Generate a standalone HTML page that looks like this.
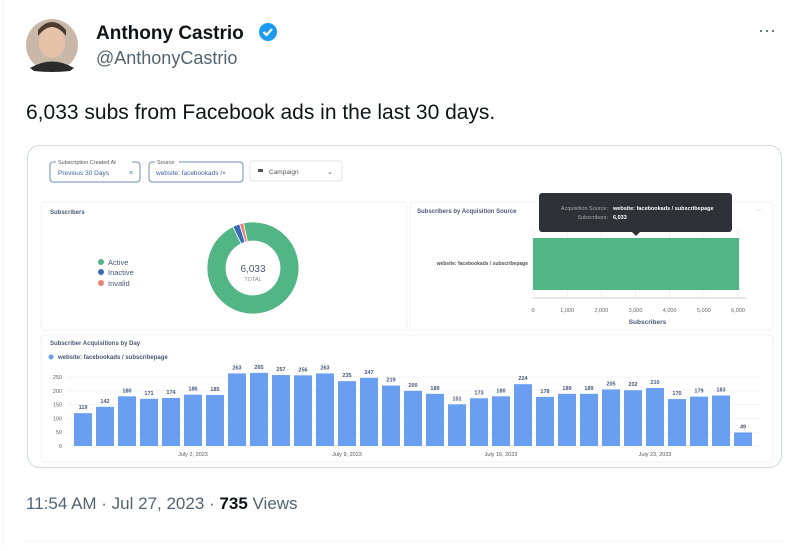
<!DOCTYPE html>
<html><head><meta charset="utf-8">
<style>
html,body{margin:0;padding:0;background:#fff;}
body{width:802px;height:546px;overflow:hidden;font-family:"Liberation Sans",sans-serif;}
svg text{font-family:"Liberation Sans",sans-serif;}
</style></head>
<body>
<svg width="802" height="546" viewBox="0 0 802 546" xmlns="http://www.w3.org/2000/svg">
  <line x1="3" y1="0" x2="3" y2="546" stroke="#eff3f4"/>
  <g>
    <circle cx="52" cy="45" r="26" fill="#c9b7a8"/>
    <ellipse cx="52" cy="42" rx="13" ry="16" fill="#e6c3a8"/>
    <path d="M38 36 Q52 18 66 36 L66 30 Q52 14 38 30Z" fill="#4a3a30"/>
    <path d="M30 68 Q52 55 74 68 L70 71 Q52 73 34 71Z" fill="#2b2b2b"/>
  </g>
  <text x="96" y="39" font-size="19" font-weight="bold" fill="#0f1419">Anthony Castrio</text>
  <g>
    <circle cx="268" cy="32" r="9" fill="#1d9bf0"/>
    <path d="M263.5 32 l3 3 l5.5 -6" stroke="#fff" stroke-width="2.2" fill="none"/>
  </g>
  <text x="96" y="64" font-size="18" fill="#536471">@AnthonyCastrio</text>
  <text x="758" y="36" font-size="18" fill="#536471">···</text>
  <text x="26" y="119" font-size="21" fill="#0f1419">6,033 subs from Facebook ads in the last 30 days.</text>

  <rect x="27.5" y="145.5" width="754" height="322" rx="12" fill="#fff" stroke="#cfd9de"/>

  <!-- filters -->
  <g>
    <rect x="50" y="162" width="90" height="20" rx="3" fill="#fff" stroke="#6b8fbf"/>
    <rect x="56" y="158" width="76" height="7" fill="#fff"/>
    <text x="58" y="164" font-size="5.5" fill="#555">Subscription Created At</text>
    <text x="58" y="175" font-size="6.5" fill="#3b64a8">Previous 30 Days</text>
    <text x="129" y="175" font-size="7" fill="#3b64a8">×</text>
  </g>
  <g>
    <rect x="149" y="162" width="94" height="20" rx="3" fill="#fff" stroke="#6b8fbf"/>
    <rect x="155" y="158" width="24" height="7" fill="#fff"/>
    <text x="157" y="164" font-size="5.5" fill="#555">Source</text>
    <text x="156" y="175" font-size="6.5" fill="#3b64a8">website: facebookads /×</text>
  </g>
  <g>
    <rect x="250" y="161" width="92" height="20" rx="3" fill="#fff" stroke="#e3e3e3"/>
    <rect x="258" y="169" width="5" height="3" fill="#555"/>
    <text x="269" y="174" font-size="6.5" fill="#555">Campaign</text>
    <text x="327" y="174" font-size="7" fill="#555">⌄</text>
  </g>

  <!-- panels -->
  <rect x="41" y="202" width="366" height="128" rx="4" fill="#fff" stroke="#f0f0f0"/>
  <rect x="410" y="202" width="363" height="128" rx="4" fill="#fff" stroke="#f0f0f0"/>
  <rect x="41" y="335" width="732" height="127" rx="4" fill="#fff" stroke="#f0f0f0"/>

  <text x="50" y="214" font-size="6" font-weight="bold" fill="#4c5773">Subscribers</text>
  <g id="donut"></g>
  <g>
    <circle cx="101" cy="262" r="3" fill="#52b586"/><text x="108" y="265" font-size="7.5" fill="#4c5773">Active</text>
    <circle cx="101" cy="272" r="3" fill="#3a6db5"/><text x="108" y="275" font-size="7.5" fill="#4c5773">Inactive</text>
    <circle cx="101" cy="283" r="3" fill="#e8857a"/><text x="108" y="286" font-size="7.5" fill="#4c5773">Invalid</text>
  </g>
  <text x="253" y="272" font-size="10" text-anchor="middle" fill="#4c5773">6,033</text>
  <text x="253" y="281" font-size="5.5" text-anchor="middle" fill="#888">TOTAL</text>

  <text x="417" y="213" font-size="6" font-weight="bold" fill="#4c5773">Subscribers by Acquisition Source</text>
  <text x="756" y="212" font-size="7" fill="#aaa">···</text>
  <g id="hbar"></g>

  <text x="50" y="345" font-size="6" font-weight="bold" fill="#4c5773">Subscriber Acquisitions by Day</text>
  <circle cx="51" cy="357" r="2.5" fill="#6a9ef0"/>
  <text x="58" y="359" font-size="6" font-weight="bold" fill="#4c5773">website: facebookads / subscribepage</text>
  <g id="vbar"></g>

  <!-- tooltip -->
  <g>
    <rect x="539" y="193" width="193" height="39" rx="3" fill="#2e3236"/>
    <path d="M632 232 L636 236 L640 232Z" fill="#2e3236"/>
    <text x="608" y="210" font-size="5.5" text-anchor="end" fill="#aaa">Acquisition Source:</text>
    <text x="613" y="210" font-size="5.5" font-weight="bold" fill="#fff">website: facebookads / subscribepage</text>
    <text x="608" y="219" font-size="5.5" text-anchor="end" fill="#aaa">Subscribers:</text>
    <text x="613" y="219" font-size="5.5" font-weight="bold" fill="#fff">6,033</text>
  </g>

  <text x="26" y="509" font-size="17" fill="#536471">11:54 AM · Jul 27, 2023 · <tspan fill="#0f1419" font-weight="bold">735</tspan> Views</text>
  <line x1="26" y1="541" x2="782" y2="541" stroke="#eff3f4"/>
</svg>
<script>
const NS='http://www.w3.org/2000/svg';
// donut data
const donutLabels=['Active','Inactive','Invalid'];
const donutValues=[5800,150,83];
const donutColors=['#52b586','#3a6db5','#e8857a'];
// horizontal bar data
const srcCategories=['website: facebookads / subscribepage'];
const srcValues=[6033];
const srcTicks=[0,1000,2000,3000,4000,5000,6000];
// daily bar data
const dayValues=[119,142,180,171,174,186,185,263,265,257,256,263,235,247,219,200,189,151,173,180,224,178,189,189,205,202,210,170,179,183,49];
const dayTicks=[0,50,100,150,200,250];
const dateLabels=[{i:5,t:'July 2, 2023'},{i:12,t:'July 9, 2023'},{i:19,t:'July 16, 2023'},{i:26,t:'July 23, 2023'}];

function mk(tag,attrs,parent,text){const e=document.createElementNS(NS,tag);for(const k in attrs)e.setAttribute(k,attrs[k]);if(text!==undefined)e.textContent=text;parent.appendChild(e);return e;}

// donut
(function(){
  const g=document.getElementById('donut');
  const cx=253,cy=268,R=46,r=27;
  const total=donutValues.reduce((a,b)=>a+b,0);
  // start so small slices sit near top: Active starts at top going clockwise
  let a0=-Math.PI/2;
  const order=[0,1,2];
  order.forEach(i=>{
    const a1=a0+donutValues[i]/total*2*Math.PI;
    const p=(a,rad)=>[cx+rad*Math.cos(a),cy+rad*Math.sin(a)];
    const large=(a1-a0)>Math.PI?1:0;
    const [x0,y0]=p(a0,R),[x1,y1]=p(a1,R),[x2,y2]=p(a1,r),[x3,y3]=p(a0,r);
    const el=mk('path',{d:`M${x0} ${y0} A${R} ${R} 0 ${large} 1 ${x1} ${y1} L${x2} ${y2} A${r} ${r} 0 ${large} 0 ${x3} ${y3}Z`,fill:donutColors[i],stroke:'#fff','stroke-width':0.8},g);
    
    
    a0=a1;
  });
  g.setAttribute('transform','rotate(-12 253 268)');
})();

// horizontal bar
(function(){
  const g=document.getElementById('hbar');
  const x0=533,x1=738,max=6000;
  const xs=v=>x0+v/max*(x1-x0);
  srcTicks.forEach(t=>{
    const l=mk('line',{x1:xs(t),x2:xs(t),y1:228,y2:298,stroke:'#f0f0f0'},g);
    
    
    const tx=mk('text',{x:xs(t),y:312,'font-size':5.5,'text-anchor':'middle',fill:'#666'},g,t.toLocaleString('en-US'));
    
    
  });
  mk('line',{x1:x0,x2:746,y1:298,y2:298,stroke:'#ccc'},g);
  srcValues.forEach((v,i)=>{
    const b=mk('rect',{x:x0,y:238,width:xs(v)-x0,height:52,fill:'#52b586'},g);
    
    
    const t=mk('text',{x:528,y:265,'font-size':5,'text-anchor':'end',fill:'#555','font-weight':'bold'},g,srcCategories[i]);
    
    
  });
  const at=mk('text',{x:(x0+x1)/2+12,y:324,'font-size':6.5,'font-weight':'bold','text-anchor':'middle',fill:'#4c5773'},g,'Subscribers');
  
  
})();

// daily bars
(function(){
  const g=document.getElementById('vbar');
  const y0=446,y250=377;
  const ys=v=>y0-v*(y0-y250)/250;
  const step=22,left=74,bw=18;
  dayTicks.forEach(t=>{
    const l=mk('line',{x1:68,x2:760,y1:ys(t),y2:ys(t),stroke:'#f3f3f3'},g);
    
    
    const tx=mk('text',{x:62,y:ys(t)+2,'font-size':5.5,'text-anchor':'end',fill:'#666'},g,t);
    
    
  });
  dayValues.forEach((v,i)=>{
    const x=left+i*step;
    const b=mk('rect',{x:x,y:ys(v),width:bw,height:y0-ys(v),fill:'#6a9ef0'},g);
    
    
    const t=mk('text',{x:x+bw/2,y:ys(v)-4,'font-size':5.5,'font-weight':'bold','text-anchor':'middle',fill:'#4c5773'},g,v);
    
    
  });
  dateLabels.forEach(d=>{
    const t=mk('text',{x:left+d.i*step+bw/2,y:456,'font-size':5.5,'text-anchor':'middle',fill:'#555'},g,d.t);
    
    
  });
})();
</script>
</body></html>
